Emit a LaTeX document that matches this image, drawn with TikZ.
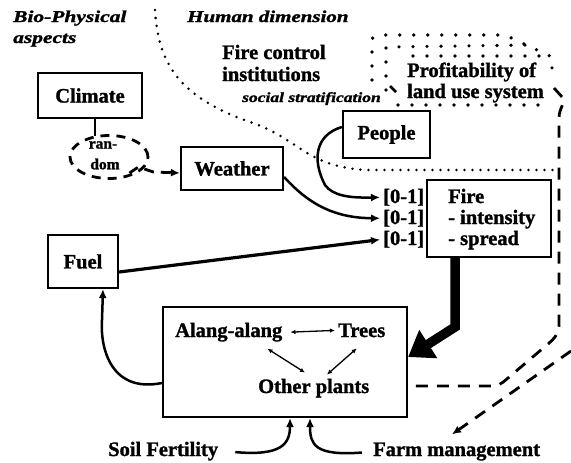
\documentclass[tikz,border=0pt]{standalone}
\usepackage{graphicx}
\usepackage{fontspec}
\setmainfont{Liberation Serif}[BoldFeatures={FakeBold=1.3},BoldItalicFeatures={FakeBold=1.3}]
\usetikzlibrary{arrows.meta,shapes.geometric}
\newcommand\mainf{\fontsize{20.5pt}{21pt}\selectfont\bfseries}
\newcommand\headf{\fontsize{16.5pt}{18pt}\selectfont\bfseries\itshape}
\newcommand\socf{\fontsize{14pt}{15pt}\selectfont\bfseries\itshape}
\newcommand\rndf{\fontsize{15.5pt}{16pt}\selectfont\bfseries}
\begin{document}
\begin{tikzpicture}[x=1pt,y=-1pt,
 box/.style={draw,line width=2.2pt,inner sep=0pt,font=\mainf},
 lbl/.style={inner sep=0pt,font=\mainf,anchor=base west},
 hdr/.style={inner sep=0pt,font=\headf,anchor=base west},
 arr/.style={line width=2.5pt,-{Latex[length=9pt,width=8pt]}},
 thinarr/.style={line width=1.3pt,{Latex[length=5pt,width=4.5pt]}-{Latex[length=5pt,width=4.5pt]}},
 dotline/.style={line width=2.8pt,line cap=round,dash pattern=on 0pt off 8pt},
 bigdots/.style={line width=3.6pt,line cap=round,dash pattern=on 0pt off 14pt},
 dashline/.style={line width=2.8pt,dash pattern=on 12pt off 9pt}
]
\fill[white] (0,0) rectangle (571,463);
\useasboundingbox (0,0) rectangle (571,463);

% headings
\node[hdr] (bio) at (13,22) {\scalebox{1.3}[1]{Bio-Physical}};
\node[hdr] (asp) at (13,43) {\scalebox{1.3}[1]{aspects}};
\node[hdr] (hum) at (187,22) {\scalebox{1.27}[1]{Human dimension}};
\node[lbl] (fc1) at (222,59) {Fire control};
\node[lbl] (fc2) at (222,81) {institutions};
\node[inner sep=0pt,font=\socf,anchor=base west] (soc) at (242,102) {\scalebox{1.25}[1]{social stratification}};

% dotted boundary
\draw[dotline] (155,10) .. controls (158,62) and (178,97) .. (250,122)
  .. controls (300,139) and (305,166) .. (365,170) -- (555,170);

% profitability
\draw[bigdots] (372,80) -- (372,42) .. controls (372,37) .. (380,35) -- (505,35) -- (552,57) -- (552,80);
\draw[bigdots] (386,90) -- (386,47) -- (532,45);
\draw[bigdots] (413,56) -- (545,56);
\draw[bigdots] (398,105) -- (548,105);
\draw[line width=2.5pt] (390,86) -- (396,92);
\node[lbl] (pr1) at (407,77) {Profitability of};
\node[lbl] (pr2) at (407,98) {land use system};

% boxes
\node[box,minimum width=104pt,minimum height=45pt] (climate) at (90,95.5) {Climate};
\node[box,minimum width=102pt,minimum height=43pt] (weather) at (232,168.5) {Weather};
\node[box,minimum width=87pt,minimum height=47pt] (people) at (386.5,134.5) {People};
\node[box,minimum width=124pt,minimum height=77pt] (fire) at (489,218.5) {};
\node[lbl] (f1) at (448,203) {Fire};
\node[lbl] (f2) at (448,224) {- intensity};
\node[lbl] (f3) at (448,245) {- spread};
\node[box,minimum width=70pt,minimum height=53pt] (fuel) at (83,261.5) {Fuel};
\node[box,minimum width=244pt,minimum height=110pt] (veg) at (285,362) {};
\node[lbl] (alang) at (175,337) {Alang-alang};
\node[lbl] (trees) at (338,337) {Trees};
\node[lbl] (other) at (258,393) {Other plants};

\node[lbl] (z1) at (383,203) {[0-1]};
\node[lbl] (z2) at (383,224) {[0-1]};
\node[lbl] (z3) at (383,245) {[0-1]};

\node[lbl] (soil) at (108,456) {Soil Fertility};
\node[lbl] (farm) at (373,456) {Farm management};

% random ellipse
\node[draw,ellipse,line width=2.8pt,dash pattern=on 9pt off 7pt,minimum width=78pt,minimum height=43pt,inner sep=0pt] (rnd) at (109,157) {};
\node[inner sep=0pt,font=\rndf] (ran) at (103,145) {ran-};
\node[inner sep=0pt,font=\rndf] (dom) at (105,164) {dom};

\draw[line width=2.2pt] ([shift={(5,0)}]climate.south) -- ([shift={(-14,1.5)}]rnd.north);
\draw[line width=2.8pt,dash pattern=on 10pt off 7pt,-{Latex[length=9pt,width=8pt]}]
  ([shift={(-20,16)}]rnd.east) -- ([shift={(-11,10)}]rnd.east) -- ([shift={(4,15)}]rnd.east)
  -- ([shift={(0,4.5)}]weather.west);

% arrows into fire
\draw[arr,shorten >=3pt] ([shift={(0,-7.5)}]people.west) .. controls (315,135) and (312,160) .. (325,185)
  .. controls (333,196) and (350,198) .. (z1.west);
\draw[arr,shorten >=3pt] ([shift={(0,8.5)}]weather.east) .. controls (305,200) and (330,218) .. (z2.west);
\draw[arr,line width=3.2pt,shorten >=3pt] ([shift={(0,10.5)}]fuel.east) -- (z3.west);

% fire to vegetation
\draw[line width=9.5pt,-{Triangle[length=24pt,width=32pt]}] ([shift={(-34,0)}]fire.south) -- (455,327) -- ([shift={(0,-5)}]veg.east);

% vegetation to fuel
\draw[arr] ([shift={(0,21)}]veg.west) .. controls (112,393) and (100,350) .. (102,320) -- ([shift={(20,0)}]fuel.south);

% inner arrows
\draw[thinarr] ([xshift=8pt]alang.east) -- ([xshift=-3pt]trees.west);
\draw[thinarr] ([shift={(-15,7)}]alang.south east) -- ([shift={(47,-6)}]other.north west);
\draw[thinarr] ([shift={(-5,11)}]trees.south) -- ([shift={(69,-4)}]other.north west);

% soil and farm
\draw[arr] ([shift={(17,1)}]soil.east) .. controls (280,456) and (290,445) .. ([shift={(5,0)}]veg.south);
\draw[arr] ([shift={(-11,1)}]farm.west) .. controls (315,456) and (310,445) .. ([shift={(25,0)}]veg.south);

% dashed right-hand paths
\draw[dashline] (554,88) -- (563,98) .. controls (566,102) and (559,108) .. (559,118) -- (559,325)
  .. controls (559,333) and (555,338) .. (548,344) -- (508,378)
  .. controls (500,385) and (498,386) .. (490,386) -- (veg.east |- 0,386);
\coordinate (edge) at (571,351);
\draw[dashline,-{Latex[length=9pt,width=8pt]}] (edge) -- ([shift={(79,-8)}]farm.north west);
\end{tikzpicture}
\end{document}
